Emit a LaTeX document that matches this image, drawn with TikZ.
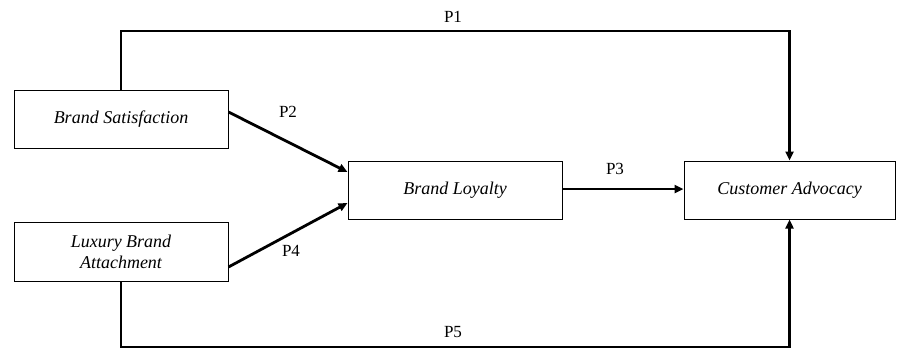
\documentclass[tikz,border=0pt]{standalone}
\usepackage{fontspec}
\setmainfont{Liberation Serif}
\usetikzlibrary{arrows.meta,calc}
\begin{document}
\begin{tikzpicture}[x=1pt,y=-1pt,
  box/.style={draw,line width=1pt,minimum width=214pt,minimum height=58pt,inner sep=0pt,font=\fontsize{18}{21}\selectfont\itshape,align=center},
  conn/.style={line width=2.8pt,-{Triangle[length=9pt,width=8pt]}},
  plabel/.style={font=\fontsize{17}{20}\selectfont}]
\useasboundingbox (0,0) rectangle (897,349);
\node[box] (BS) at (121,119) {Brand Satisfaction};
\node[box,minimum height=59pt] (LBA) at (121,251.5) {Luxury Brand\\Attachment};
\node[box] (BL) at (455,190) {Brand Loyalty};
\node[box,minimum width=211pt] (CA) at (789.5,190) {Customer Advocacy};
\coordinate (top) at (455,31);
\coordinate (bot) at (455,347);
\draw[conn] (BS.north) |- (top) -| (CA.north);
\draw[conn] (LBA.south) |- (bot) -| (CA.south);
\draw[conn] ($(BS.east)+(0,-7)$) -- ($(BL.west)+(0,-18)$);
\draw[conn] ($(LBA.east)+(0,15.5)$) -- ($(BL.west)+(0,13)$);
\draw[conn] ($(BL.east)+(0,-1)$) -- ($(CA.west)+(0,-1)$);
\node[plabel] (p1) at (453,17) {P1};
\node[plabel] (p2) at (288,112) {P2};
\node[plabel] (p3) at (615,169) {P3};
\node[plabel] (p4) at (291,251) {P4};
\node[plabel] (p5) at (453,332) {P5};
\end{tikzpicture}
\end{document}
